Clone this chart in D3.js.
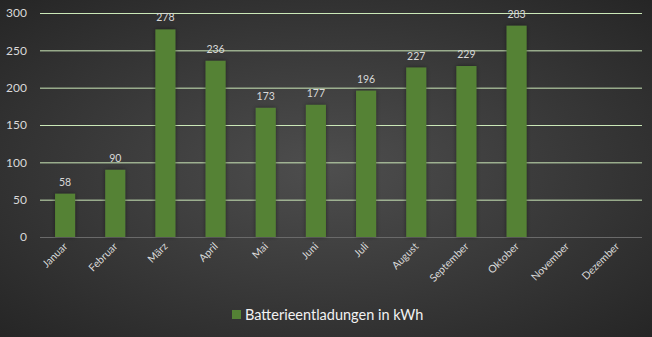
<!DOCTYPE html>
<html><head><meta charset="utf-8">
<script src="https://cdn.jsdelivr.net/npm/d3@7"></script>
<style>html,body{margin:0;padding:0;background:#333;}svg{display:block;}</style>
</head><body>
<svg id="chart" width="652" height="337"></svg>
<script>
const categories = ["Januar","Februar","März","April","Mai","Juni","Juli","August","September","Oktober","November","Dezember"];
const values = [58, 90, 278, 236, 173, 177, 196, 227, 229, 283, null, null];
const yTicks = [0, 50, 100, 150, 200, 250, 300];
const seriesName = "Batterieentladungen in kWh";

const W = 652, H = 337;
const m = {left: 40, right: 10, top: 13, bottom: 100};
const svg = d3.select("#chart");
const defs = svg.append("defs");
const rg = defs.append("radialGradient").attr("id","bg").attr("cx","50%").attr("cy","50%").attr("r","75%");
rg.append("stop").attr("offset","0%").attr("stop-color","#4e4e4e");
rg.append("stop").attr("offset","100%").attr("stop-color","#232323");
const f = defs.append("filter").attr("id","sh").attr("x","-30%").attr("y","-10%").attr("width","160%").attr("height","120%");
f.append("feDropShadow").attr("dx",0).attr("dy",0).attr("stdDeviation",2).attr("flood-color","#000").attr("flood-opacity",0.45);

svg.append("rect").attr("width",W).attr("height",H).attr("fill","url(#bg)");

const x = d3.scaleBand().domain(categories).range([m.left, 642]).paddingInner(0.6).paddingOuter(0.3);
const y = d3.scaleLinear().domain([0,300]).range([237, 13]);

const font = "Lato, 'Open Sans', sans-serif";

// gridlines
svg.append("g").selectAll("line").data(yTicks.filter(d=>d>0)).join("line")
  .attr("x1", 40).attr("x2", 642).attr("y1", d=>y(d)+0.5).attr("y2", d=>y(d)+0.5)
  .attr("stroke","#cbe8b8").attr("stroke-width",1);
svg.append("line").attr("x1",40).attr("x2",642).attr("y1",y(0)+0.5).attr("y2",y(0)+0.5)
  .attr("stroke","#6a6a6a").attr("stroke-width",1);

// y axis labels
const yAxis = d3.axisLeft(y).tickValues(yTicks).tickSize(0).tickPadding(0);
const ya = svg.append("g").attr("transform","translate(27,0)").call(yAxis);
ya.select(".domain").remove();
ya.selectAll("text").attr("fill","#d9d9d9").style("font-family",font).style("font-size","12px");

// bars
const data = categories.map((c,i)=>({c, v: values[i]})).filter(d=>d.v!=null);
svg.append("g").attr("filter","url(#sh)").selectAll("rect").data(data).join("rect")
  .attr("x", d=>x(d.c)).attr("width", x.bandwidth())
  .attr("y", d=>y(d.v)).attr("height", d=>y(0)-y(d.v))
  .attr("fill","#548235");

// data labels
svg.append("g").selectAll("text").data(data).join("text")
  .attr("x", d=>x(d.c)+x.bandwidth()/2).attr("y", d=>y(d.v)-8)
  .attr("text-anchor","middle").attr("fill","#d9d9d9")
  .style("font-family",font).style("font-size","10.5px").text(d=>d.v);

// x axis labels
const xAxis = d3.axisBottom(x).tickSize(0).tickPadding(0);
const xa = svg.append("g").attr("transform",`translate(0,${y(0)})`).call(xAxis);
xa.select(".domain").remove();
xa.selectAll("text").attr("fill","#d9d9d9").style("font-family",font).style("font-size","10.5px")
  .attr("text-anchor","end").attr("dy",null).attr("y",0)
  .attr("transform","translate(3,10) rotate(-45)");

// legend
const lg = svg.append("g");
lg.append("rect").attr("x",232).attr("y",310).attr("width",9).attr("height",9).attr("fill","#548235");
lg.append("text").attr("x",245).attr("y",320).attr("fill","#f2f2f2")
  .style("font-family",font).style("font-size","14.5px").text(seriesName);
</script>
</body></html>
